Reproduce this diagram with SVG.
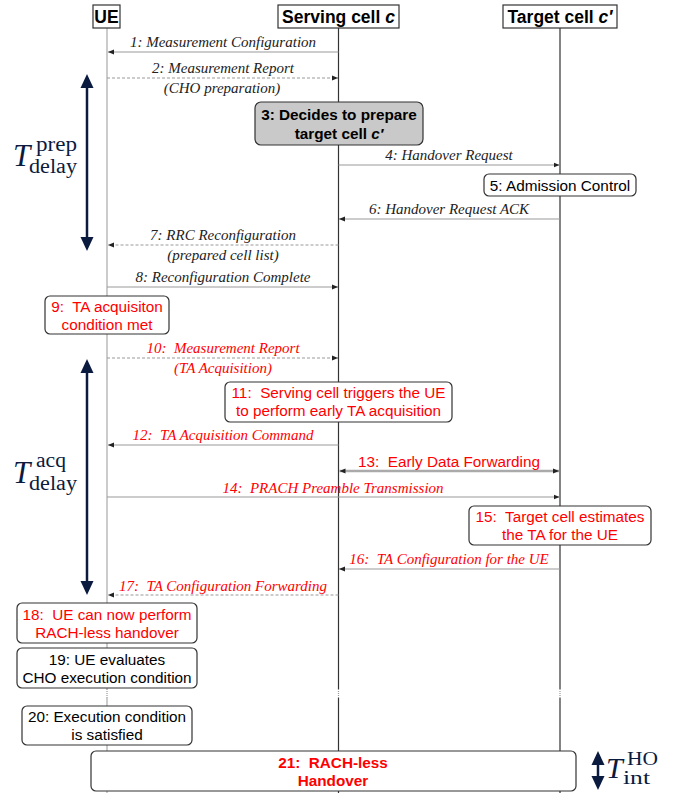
<svg xmlns="http://www.w3.org/2000/svg" width="678" height="793" viewBox="0 0 678 793">
<style>
text{white-space:pre}
.hdr{fill:#fff;stroke:#333;stroke-width:1.2}
.ht{font-family:"Liberation Sans",Arial,sans-serif;font-weight:bold;font-size:17.5px;fill:#000;text-anchor:middle}
.life{stroke:#333;stroke-width:1.2;fill:none}
.lifeg{stroke:#aaa;stroke-width:1.2;fill:none}
.dot{stroke:#999;stroke-width:1.2;stroke-dasharray:1 1;fill:none}
.msg{stroke:#999;stroke-width:1;fill:none;marker-end:url(#ah)}
.dash{stroke-dasharray:3 2}
.lbl{font-family:"Liberation Serif","Times New Roman",serif;font-style:italic;font-size:15px;fill:#222;text-anchor:middle}
.box{fill:#fff;stroke:#333;stroke-width:1.2}
.bt{font-family:"Liberation Sans",Arial,sans-serif;font-size:15.3px;fill:#000;text-anchor:middle}
.bold{font-weight:bold}
text.red{fill:#ff0000}
.tim{stroke:#0b1b40;stroke-width:2.5;fill:none;marker-start:url(#nh);marker-end:url(#nh)}
.math{font-family:"Liberation Serif","Times New Roman",serif;fill:#0b1b40}
</style>
<defs>
<marker id="ah" markerUnits="userSpaceOnUse" markerWidth="7" markerHeight="6" refX="6" refY="3" orient="auto-start-reverse"><path d="M0,0.5 L6,3 L0,5.5 z" fill="#222"/></marker>
<marker id="nh" markerUnits="userSpaceOnUse" markerWidth="14" markerHeight="14" refX="9" refY="7" orient="auto-start-reverse"><path d="M0,0.5 L14,7 L0,13.5 z" fill="#0b1b40"/></marker>
</defs>
<rect width="678" height="793" fill="#fff"/>

<g id="lifelines">
<path class="lifeg" d="M107,28 V689 M107,698 V793"/>
<path class="life" d="M338.5,28 V689 M338.5,698 V793"/>
<path class="life" d="M560,28 V689 M560,698 V793"/>
<path class="dot" d="M107,689 V698 M338.5,689 V698 M560,689 V698"/>
</g>

<g id="ue"><rect class="hdr" x="93" y="5" width="27" height="23"/><text class="ht" x="106.5" y="22.5">UE</text></g>
<g id="serving"><rect class="hdr" x="278" y="5" width="121" height="23"/><text class="ht" x="338.5" y="22.5">Serving cell <tspan font-style="italic">c</tspan></text></g>
<g id="target"><rect class="hdr" x="503" y="5" width="114" height="23"/><text class="ht" x="560" y="22.5">Target cell <tspan font-style="italic">c′</tspan></text></g>

<g id="connectors">
<line class="msg" x1="338.5" y1="52" x2="108" y2="52"/>
<line class="msg dash" x1="107" y1="78" x2="338" y2="78"/>
<line class="msg" x1="338.5" y1="165" x2="559.5" y2="165"/>
<line class="msg" x1="560" y1="219" x2="339" y2="219"/>
<line class="msg dash" x1="338.5" y1="245" x2="108" y2="245"/>
<line class="msg" x1="107" y1="287" x2="338" y2="287"/>
<line class="msg dash" x1="107" y1="358" x2="338" y2="358"/>
<line class="msg" x1="338.5" y1="445" x2="108" y2="445"/>
<line x1="339.5" y1="471" x2="559" y2="471" stroke="#aaa" stroke-width="2.5" marker-start="url(#ah)" marker-end="url(#ah)"/>
<line class="msg" x1="107" y1="497" x2="559.5" y2="497"/>
<line class="msg" x1="560" y1="569" x2="339" y2="569"/>
<line class="msg dash" x1="338.5" y1="595" x2="108" y2="595"/>
</g>

<g id="labels">
<text class="lbl" x="223" y="47">1: Measurement Configuration</text>
<text class="lbl" x="223" y="73">2: Measurement Report</text>
<text class="lbl" x="222" y="93">(CHO preparation)</text>
<text class="lbl" x="449" y="160">4: Handover Request</text>
<text class="lbl" x="449" y="214">6: Handover Request ACK</text>
<text class="lbl" x="223" y="240">7: RRC Reconfiguration</text>
<text class="lbl" x="223" y="260">(prepared cell list)</text>
<text class="lbl" x="223" y="282">8: Reconfiguration Complete</text>
<text class="lbl red" x="223" y="353">10:  Measurement Report</text>
<text class="lbl red" x="223" y="373">(TA Acquisition)</text>
<text class="lbl red" x="223" y="440">12:  TA Acquisition Command</text>
<text class="bt red" x="449" y="467">13:  Early Data Forwarding</text>
<text class="lbl red" x="333" y="493">14:  PRACH Preamble Transmission</text>
<text class="lbl red" x="449" y="564">16:  TA Configuration for the UE</text>
<text class="lbl red" x="223" y="591">17:  TA Configuration Forwarding</text>
</g>

<g id="n3"><rect x="255" y="102" width="168" height="43" rx="6" fill="#c9c9c9" stroke="#333" stroke-width="1.2"/>
<text class="bt bold" x="339" y="120" font-size="15.5">3: Decides to prepare</text>
<text class="bt bold" x="339" y="139" font-size="15.5">target cell <tspan font-style="italic">c′</tspan></text></g>
<g id="n5"><rect class="box" x="484" y="174" width="152" height="22" rx="5"/><text class="bt" x="560" y="190.5">5: Admission Control</text></g>
<g id="n9"><rect class="box" x="45" y="296" width="124" height="38" rx="5"/>
<text class="bt red" x="107" y="312">9:  TA acquisiton</text><text class="bt red" x="107" y="330">condition met</text></g>
<g id="n11"><rect class="box" x="225" y="382" width="227" height="40" rx="5"/>
<text class="bt red" x="338.5" y="398">11:  Serving cell triggers the UE</text><text class="bt red" x="338.5" y="416">to perform early TA acquisition</text></g>
<g id="n15"><rect class="box" x="469" y="506" width="182" height="39" rx="5"/>
<text class="bt red" x="560" y="522">15:  Target cell estimates</text><text class="bt red" x="560" y="540">the TA for the UE</text></g>
<g id="n18"><rect class="box" x="17" y="603" width="180" height="40" rx="5"/>
<text class="bt red" x="107" y="620">18:  UE can now perform</text><text class="bt red" x="107" y="638">RACH-less handover</text></g>
<g id="n19"><rect class="box" x="17" y="648" width="180" height="40" rx="5"/>
<text class="bt" x="107" y="665">19: UE evaluates</text><text class="bt" x="107" y="683">CHO execution condition</text></g>
<g id="n20"><rect class="box" x="22" y="706" width="170" height="39" rx="5"/>
<text class="bt" x="107" y="722">20: Execution condition</text><text class="bt" x="107" y="740">is satisfied</text></g>
<g id="n21"><rect class="box" x="91" y="751" width="485" height="40" rx="5"/>
<text class="bt bold red" x="333" y="768">21:  RACH-less</text><text class="bt bold red" x="333" y="786">Handover</text></g>

<g id="timing">
<line class="tim" x1="87" y1="79" x2="87" y2="246"/>
<line class="tim" x1="87" y1="364" x2="87" y2="590"/>
<line class="tim" x1="598" y1="756" x2="598" y2="785"/>
<text class="math" x="13" y="166" font-size="31" font-style="italic">T</text>
<text class="math" x="36" y="151" font-size="20" textLength="41" lengthAdjust="spacingAndGlyphs">prep</text>
<text class="math" x="29" y="173" font-size="20" textLength="48" lengthAdjust="spacingAndGlyphs">delay</text>
<text class="math" x="13" y="483" font-size="31" font-style="italic">T</text>
<text class="math" x="36" y="467" font-size="20" textLength="30" lengthAdjust="spacingAndGlyphs">acq</text>
<text class="math" x="29" y="490" font-size="20" textLength="48" lengthAdjust="spacingAndGlyphs">delay</text>
<text class="math" x="606" y="778" font-size="30" font-style="italic">T</text>
<text class="math" x="627" y="765" font-size="19" textLength="31" lengthAdjust="spacingAndGlyphs">HO</text>
<text class="math" x="623" y="784" font-size="19" textLength="27" lengthAdjust="spacingAndGlyphs">int</text>
</g>
</svg>
